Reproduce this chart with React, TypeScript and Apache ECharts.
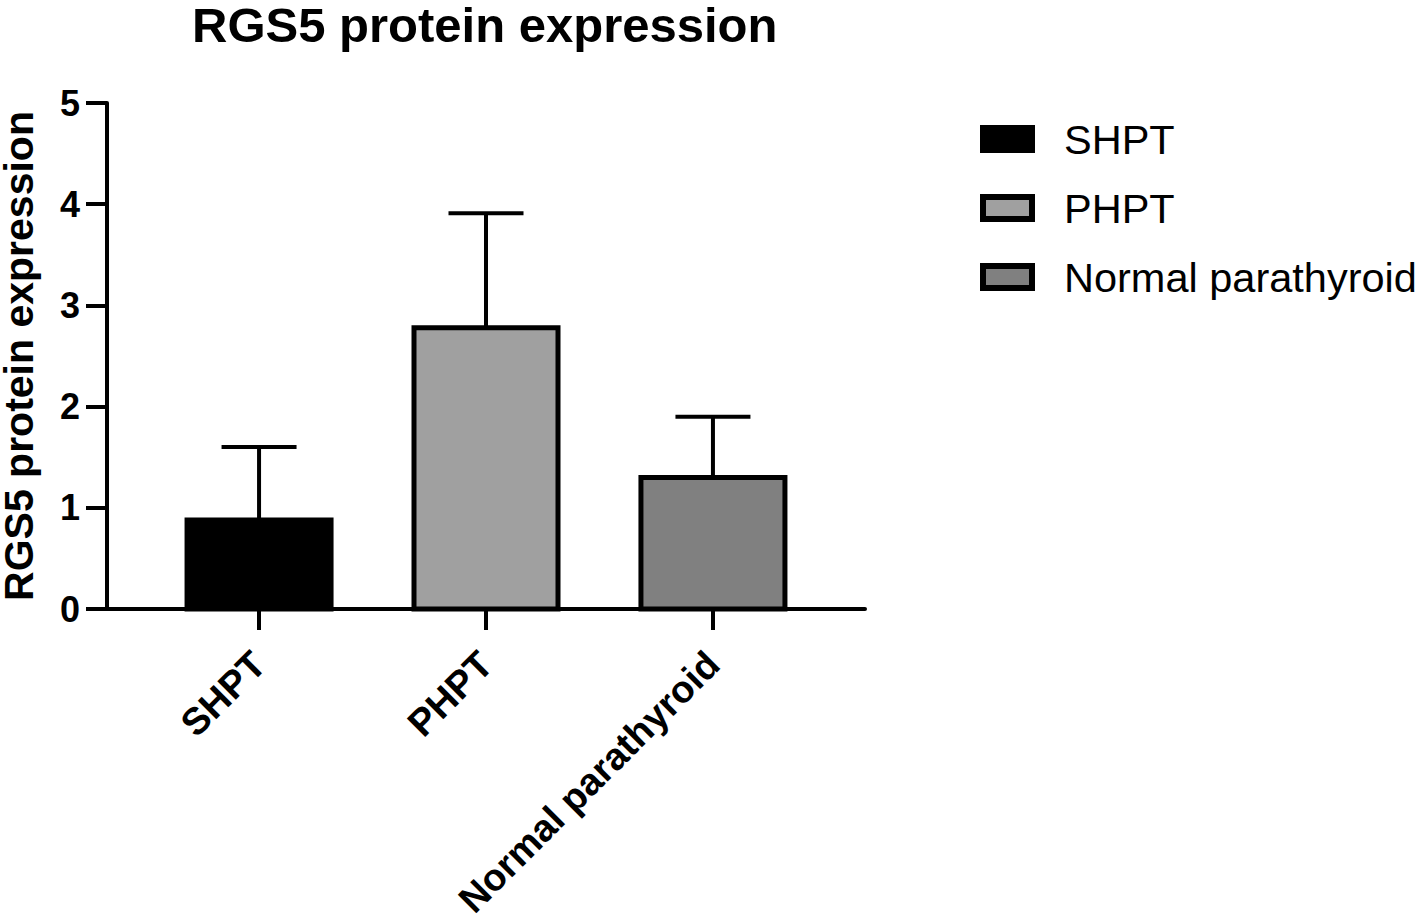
import React, { useEffect, useRef } from "react";
import * as echarts from "echarts";

const categories = ["SHPT", "PHPT", "Normal parathyroid"];
const means = [0.88, 2.78, 1.3];
const upperErrors = [1.6, 3.91, 1.9];
const fills = ["#000000", "#a0a0a0", "#808080"];
const yTicks = [0, 1, 2, 3, 4, 5];
const xTickPositions = [0, 1, 2];

const FONT = '"Liberation Sans", Arial, Helvetica, sans-serif';

export default function App() {
  const ref = useRef<HTMLDivElement>(null);
  useEffect(() => {
    if (!ref.current) return;
    const chart = echarts.init(ref.current, undefined, { renderer: "svg" });
    const barSeries = categories.map((name, i) => ({
      type: "custom",
      name,
      data: [[i, means[i]]],
      itemStyle: { color: fills[i], borderColor: "#000", borderWidth: 5 },
      z: 2,
      renderItem: (params: any, api: any) => {
        const x = api.value(0);
        const p0 = api.coord([x, 0]);
        const p1 = api.coord([x, api.value(1)]);
        const w = 144;
        return {
          type: "rect",
          shape: { x: p0[0] - w / 2, y: p1[1], width: w, height: p0[1] - p1[1] },
          style: { fill: fills[i], stroke: "#000", lineWidth: 5 },
        };
      },
    }));
    const errorSeries = {
      type: "custom",
      name: "err",
      data: categories.map((_, i) => [i, means[i], upperErrors[i]]),
      z: 3,
      renderItem: (params: any, api: any) => {
        const x = api.value(0);
        const base = api.coord([x, api.value(1)]);
        const top = api.coord([x, api.value(2)]);
        const half = 37.5;
        return {
          type: "group",
          children: [
            {
              type: "line",
              shape: { x1: base[0], y1: base[1], x2: top[0], y2: top[1] },
              style: { stroke: "#000", lineWidth: 4 },
            },
            {
              type: "line",
              shape: { x1: top[0] - half, y1: top[1], x2: top[0] + half, y2: top[1] },
              style: { stroke: "#000", lineWidth: 4 },
            },
          ],
        };
      },
    };
    chart.setOption({
      animation: false,
      textStyle: { fontFamily: FONT },
      title: {
        text: "RGS5 protein expression",
        left: 192,
        top: 0,
        padding: 0,
        textStyle: {
          fontSize: 49,
          lineHeight: 49,
          fontWeight: "bold",
          color: "#000",
          fontFamily: FONT,
        },
      },
      legend: {
        orient: "vertical",
        left: 980,
        top: 118,
        padding: 0,
        itemWidth: 49,
        itemHeight: 22,
        itemGap: 27,
        data: categories.map((name, i) => ({
          name,
          icon: "rect",
          itemStyle: { color: fills[i], borderColor: "#000", borderWidth: 6 },
        })),
        textStyle: {
          fontSize: 41.5,
          color: "#000",
          fontFamily: FONT,
          padding: [0, 0, 0, 27],
        },
      },
      grid: {
        left: 107,
        right: 551,
        top: 103,
        bottom: 309,
        containLabel: false,
        outerBoundsMode: "none",
      },
      xAxis: {
        type: "value",
        min: -0.67,
        max: 2.67,
        splitLine: { show: false },
        axisLine: { show: true, onZero: false, lineStyle: { color: "#000", width: 4 } },
        axisTick: {
          show: true,
          customValues: xTickPositions,
          length: 21,
          lineStyle: { color: "#000", width: 4 },
        },
        axisLabel: {
          customValues: xTickPositions,
          formatter: (v: number) => categories[Math.round(v)],
          rotate: 45,
          margin: 49,
          fontSize: 38,
          lineHeight: 38,
          fontWeight: "bold",
          color: "#000",
          fontFamily: FONT,
        },
      },
      yAxis: {
        type: "value",
        min: yTicks[0],
        max: yTicks[yTicks.length - 1],
        interval: 1,
        name: "RGS5 protein expression",
        nameLocation: "middle",
        nameGap: 68,
        nameMoveOverlap: false,
        nameTextStyle: {
          fontSize: 41,
          lineHeight: 41,
          fontWeight: "bold",
          color: "#000",
          fontFamily: FONT,
        },
        splitLine: { show: false },
        axisLine: { show: true, onZero: false, lineStyle: { color: "#000", width: 4 } },
        axisTick: { show: true, length: 21, lineStyle: { color: "#000", width: 4 } },
        axisLabel: {
          margin: 27,
          fontSize: 36,
          fontWeight: "bold",
          color: "#000",
          fontFamily: FONT,
        },
      },
      series: [...barSeries, errorSeries],
    });
    return () => chart.dispose();
  }, []);
  return (
    <div
      ref={ref}
      style={{ position: "absolute", left: 0, top: 0, width: 1416, height: 918, background: "#fff" }}
    />
  );
}
